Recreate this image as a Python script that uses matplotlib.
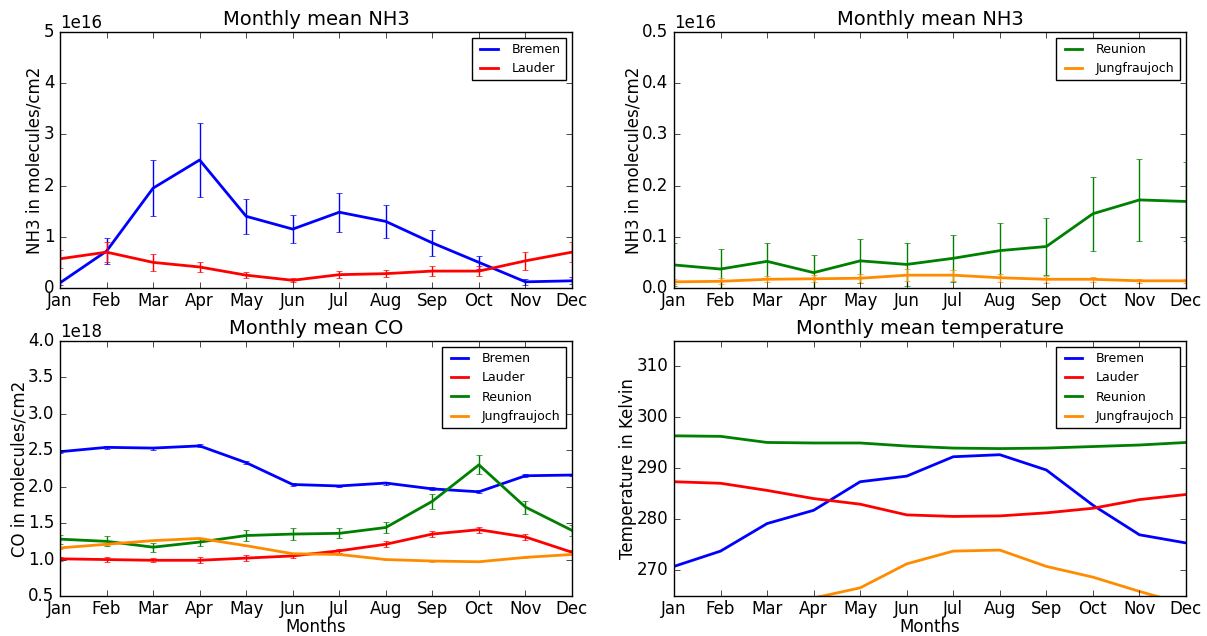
import matplotlib
matplotlib.use("Agg")
import matplotlib.pyplot as plt
import matplotlib.ticker as ticker
import numpy as np

plt.style.use('classic')

months = ['Jan', 'Feb', 'Mar', 'Apr', 'May', 'Jun', 'Jul', 'Aug', 'Sep', 'Oct', 'Nov', 'Dec']

# NH3 (molecules/cm2)
nh3_bremen = np.array([0.10, 0.72, 1.95, 2.50, 1.40, 1.15, 1.48, 1.30, 0.88, 0.50, 0.12, 0.14]) * 1e16
nh3_bremen_err = np.array([0.05, 0.25, 0.55, 0.72, 0.34, 0.28, 0.38, 0.32, 0.25, 0.12, 0.06, 0.07]) * 1e16
nh3_lauder = np.array([0.57, 0.70, 0.50, 0.41, 0.25, 0.15, 0.26, 0.28, 0.33, 0.33, 0.53, 0.70]) * 1e16
nh3_lauder_err = np.array([0.17, 0.20, 0.17, 0.10, 0.06, 0.04, 0.07, 0.07, 0.10, 0.10, 0.18, 0.20]) * 1e16
nh3_reunion = np.array([0.045, 0.037, 0.052, 0.030, 0.053, 0.046, 0.058, 0.073, 0.081, 0.145, 0.172, 0.169]) * 1e16
nh3_reunion_err = np.array([0.042, 0.040, 0.035, 0.035, 0.043, 0.042, 0.046, 0.054, 0.056, 0.072, 0.080, 0.077]) * 1e16
nh3_jungfrau = np.array([0.012, 0.013, 0.017, 0.018, 0.019, 0.025, 0.025, 0.020, 0.017, 0.017, 0.014, 0.014]) * 1e16
nh3_jungfrau_err = np.array([0.005, 0.006, 0.006, 0.007, 0.009, 0.012, 0.011, 0.008, 0.007, 0.005, 0.004, 0.004]) * 1e16

# CO (molecules/cm2)
co_bremen = np.array([2.48, 2.54, 2.53, 2.56, 2.33, 2.03, 2.01, 2.05, 1.97, 1.93, 2.15, 2.16]) * 1e18
co_bremen_err = np.array([0.02, 0.02, 0.02, 0.02, 0.02, 0.02, 0.02, 0.02, 0.02, 0.02, 0.02, 0.02]) * 1e18
co_lauder = np.array([1.01, 1.00, 0.99, 0.99, 1.02, 1.05, 1.12, 1.21, 1.35, 1.41, 1.31, 1.10]) * 1e18
co_lauder_err = np.array([0.03, 0.04, 0.03, 0.04, 0.04, 0.03, 0.03, 0.04, 0.04, 0.04, 0.04, 0.03]) * 1e18
co_reunion = np.array([1.28, 1.25, 1.17, 1.24, 1.33, 1.35, 1.36, 1.44, 1.80, 2.30, 1.72, 1.40]) * 1e18
co_reunion_err = np.array([0.06, 0.07, 0.06, 0.06, 0.07, 0.08, 0.07, 0.08, 0.10, 0.13, 0.09, 0.07]) * 1e18
co_jungfrau = np.array([1.16, 1.21, 1.26, 1.29, 1.19, 1.08, 1.07, 1.00, 0.98, 0.97, 1.03, 1.07]) * 1e18
co_jungfrau_err = np.array([0.01, 0.01, 0.01, 0.01, 0.01, 0.01, 0.01, 0.01, 0.01, 0.01, 0.01, 0.01]) * 1e18

# temperature (K)
t_bremen = [270.8, 273.8, 279.2, 281.8, 287.4, 288.5, 292.3, 292.7, 289.7, 282.8, 277.0, 275.4]
t_lauder = [287.4, 287.1, 285.7, 284.1, 283.0, 280.9, 280.6, 280.7, 281.3, 282.2, 283.9, 284.9]
t_reunion = [296.4, 296.3, 295.1, 295.0, 295.0, 294.4, 294.0, 293.9, 294.0, 294.3, 294.6, 295.1]
t_jungfrau = [258.0, 259.5, 261.5, 264.6, 266.6, 271.3, 273.8, 274.0, 270.8, 268.7, 265.9, 263.3]

x = np.arange(12)
c_blue, c_red, c_green, c_orange = 'b', 'r', 'g', '#ff8c00'

fig = plt.figure(figsize=(12.07, 6.36), dpi=100, facecolor='white')
ax1 = fig.add_axes([0.0497, 0.5472, 0.4242, 0.4025])
ax2 = fig.add_axes([0.5584, 0.5472, 0.4242, 0.4025])
ax3 = fig.add_axes([0.0497, 0.0629, 0.4242, 0.4010])
ax4 = fig.add_axes([0.5584, 0.0629, 0.4242, 0.4010])

def eb(ax, y, err, color, label):
    ax.errorbar(x, y, yerr=err, fmt='none', ecolor=color, elinewidth=1, capsize=2)
    ax.plot(x, y, color=color, lw=2, label=label)

eb(ax1, nh3_bremen, nh3_bremen_err, c_blue, 'Bremen')
eb(ax1, nh3_lauder, nh3_lauder_err, c_red, 'Lauder')
ax1.set_ylim(0, 5e16)
ax1.set_title('Monthly mean NH3', fontsize=14)
ax1.set_ylabel('NH3 in molecules/cm2', fontsize=12)

eb(ax2, nh3_reunion, nh3_reunion_err, c_green, 'Reunion')
eb(ax2, nh3_jungfrau, nh3_jungfrau_err, c_orange, 'Jungfraujoch')
ax2.set_ylim(0, 0.5e16)
ax2.set_yticks(np.arange(0, 0.51, 0.1) * 1e16)
fmt = ticker.ScalarFormatter(useMathText=False)
fmt.set_powerlimits((16, 16))
ax2.yaxis.set_major_formatter(fmt)
ax2.set_title('Monthly mean NH3', fontsize=14)
ax2.set_ylabel('NH3 in molecules/cm2', fontsize=12)

eb(ax3, co_bremen, co_bremen_err, c_blue, 'Bremen')
eb(ax3, co_lauder, co_lauder_err, c_red, 'Lauder')
eb(ax3, co_reunion, co_reunion_err, c_green, 'Reunion')
eb(ax3, co_jungfrau, co_jungfrau_err, c_orange, 'Jungfraujoch')
ax3.set_ylim(0.5e18, 4.0e18)
ax3.set_title('Monthly mean CO', fontsize=14)
ax3.set_ylabel('CO in molecules/cm2', fontsize=12)
ax3.set_xlabel('Months', fontsize=12, labelpad=0)

ax4.plot(x, t_bremen, color=c_blue, lw=2, label='Bremen')
ax4.plot(x, t_lauder, color=c_red, lw=2, label='Lauder')
ax4.plot(x, t_reunion, color=c_green, lw=2, label='Reunion')
ax4.plot(x, t_jungfrau, color=c_orange, lw=2, label='Jungfraujoch')
ax4.set_ylim(265, 315)
ax4.set_yticks([270, 280, 290, 300, 310])
ax4.set_title('Monthly mean temperature', fontsize=14)
ax4.set_ylabel('Temperature in Kelvin', fontsize=12)
ax4.set_xlabel('Months', fontsize=12, labelpad=0)

for ax in (ax1, ax2, ax3, ax4):
    ax.set_xlim(0, 11)
    ax.set_xticks(x)
    ax.set_xticklabels(months)
    ax.tick_params(labelsize=12)
    ax.tick_params(axis='x', pad=3)
    ax.yaxis.labelpad = 0
    ax.yaxis.get_offset_text().set_fontsize(12)
    ax.legend(loc='upper right', fontsize=9)

fig.savefig('out.png', dpi=100, facecolor='white')
